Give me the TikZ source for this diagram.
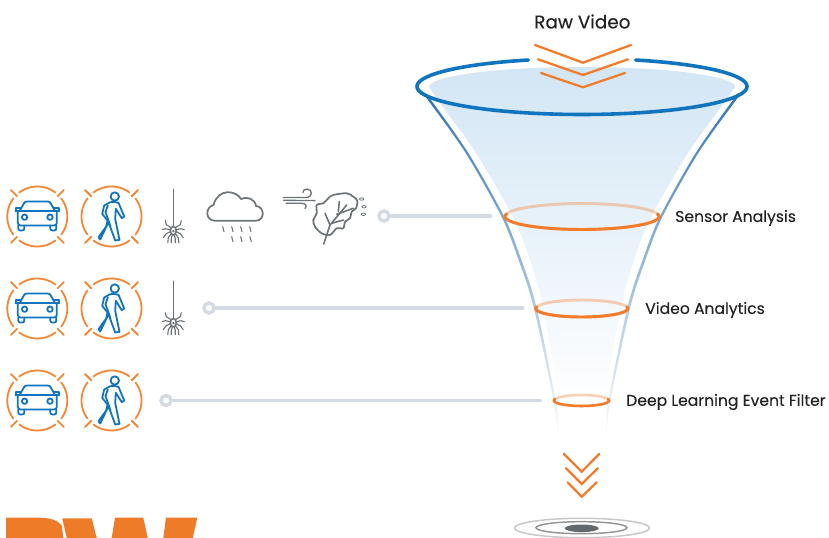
\documentclass[tikz,border=0pt]{standalone}
\usepackage{fontspec}
\setmainfont[FakeBold=0.25]{Poppins}
\definecolor{orA}{HTML}{F47B2A}
\definecolor{orL}{HTML}{F58634}
\definecolor{blA}{HTML}{1174BE}
\definecolor{blS}{HTML}{2E75BA}
\definecolor{blM}{HTML}{5F8DCB}
\definecolor{fillT}{HTML}{D3E6F5}
\definecolor{fillM}{HTML}{E3EFF9}
\definecolor{gyA}{HTML}{6D7478}
\definecolor{lineG}{HTML}{D3DAE2}
\definecolor{txt}{HTML}{222222}
\definecolor{lett}{HTML}{EE7B28}
\tikzset{
  chev/.style={draw=orA,line width=1.7pt,line cap=round,line join=miter},
  ico/.style={draw=blA,line width=1.35pt,line join=round,line cap=round},
  gico/.style={draw=gyA,line width=1.2pt,line join=round,line cap=round},
  rng/.style={draw=orL,line width=1.35pt,line cap=round},
  lab/.style={anchor=west,inner sep=0pt,text=txt,font=\fontsize{11.7pt}{14pt}\selectfont},
  dotend/.style={circle,draw=lineG,line width=2.6pt,fill=white,minimum size=7.5pt,inner sep=0pt},
  leader/.style={draw=lineG,line width=2.6pt,line cap=round},
  ringsign/.pic={
    \foreach \a in {0,90,180,270}{
      \draw[rng] plot[domain=\a-37:\a+37,samples=20] ({30*cos(\x)},{30*sin(\x)});
      \draw[rng] ({28.6*cos(\a+45)},{28.6*sin(\a+45)}) -- ({37.3*cos(\a+45)},{37.3*sin(\a+45)});
    }
  },
  carsign/.pic={
    \draw[ico] (-17.7,-5.5) -- (-13.5,-13) .. controls (-12.7,-14.5) and (-12,-15) .. (-10,-15) -- (10,-15) .. controls (12,-15) and (12.7,-14.5) .. (13.5,-13) -- (17.7,-5.5);
    \draw[ico,line width=1.7pt] (-21.7,-5.5) -- (21.7,-5.5);
    \draw[ico] (-17.7,-5.5) -- (-21.7,-5.5) -- (-21.7,-8.3) -- (-17,-8.3);
    \draw[ico] (17.7,-5.5) -- (21.7,-5.5) -- (21.7,-8.3) -- (17,-8.3);
    \draw[ico,rounded corners=2pt] (-19.5,-5) -- (-19.5,9) -- (19.5,9) -- (19.5,-5);
    \draw[ico,rounded corners=1.5pt] (-19,9) -- (-19,14) -- (-13,14) -- (-13,9);
    \draw[ico,rounded corners=1.5pt] (13,9) -- (13,14) -- (19,14) -- (19,9);
    \draw[ico] (-12.7,0.7) circle[radius=2.7];
    \draw[ico] (12.7,0.7) circle[radius=2.7];
  },
  walksign/.pic={
    \draw[ico] (3.3,-20) circle[radius=4.2];
    \draw[ico] (-1.3,-14.3) -- (3,-14.5) -- (7,-13.7) -- (12.7,0) -- (10.3,1.7) -- (4.3,-7.7) -- (3.7,2.3) -- (8,23.3) -- (3.7,24) -- (-3,5.7) -- (-11.3,23) -- (-13,20.7) -- (-5.3,10) -- (-4,4) -- (-9.3,-2.7) -- (-7.3,-11) -- cycle;
    \draw[ico] (-3.7,-11) -- (-6,-4.3) -- (-3,4) -- (-1,10);
  },
  spidersign/.pic={
    \draw[gico] (0,-41.5) -- (0,-5);
    \foreach \s in {-1,1}{
      \begin{scope}[xscale=\s]
      \draw[gico,line width=.85pt] (2,-3) -- (7,-6) -- (8,-10);
      \draw[gico,line width=.85pt] (3,-1) -- (8,-2) -- (11,-1);
      \draw[gico,line width=.85pt] (3,1) -- (7,3) -- (10,7);
      \draw[gico,line width=.85pt] (2,3) -- (5,7) -- (5.5,12);
      \draw[gico,line width=.85pt] (1,4) -- (2,8) -- (2,12);
      \end{scope}
    }
    \draw[gico,fill=white] (0,0) ellipse[x radius=3,y radius=4.2];
    \fill[gyA] (0,0.5) circle[radius=1.3];
  }
}
\begin{document}
\begin{tikzpicture}[x=0.75pt,y=-0.75pt]
\useasboundingbox (0,0) rectangle (829,538);

% funnel body
\shade[top color=fillT,middle color=fillM,bottom color=white]
  plot[domain=180:0,samples=60] ({582+153*cos(\x)},{87-20*sin(\x)})
  -- plot[smooth] coordinates {(735,87)(724,103)(688,153)(651,217)(634,260)(621,307)(606,393)(604,405)}
  -- plot[smooth] coordinates {(560,405)(558,393)(543,307)(530,260)(513,217)(476,153)(440,103)(429,87)}
  -- cycle;
% funnel walls
\shade[top color=blS,middle color=blM,bottom color=white]
  plot[smooth] coordinates {(425.5,94)(429.5,98)(468.3,153)(504.3,217)(521.4,260)(536.4,307)(556,403)(558.4,440)}
  -- plot[smooth] coordinates {(557.6,440)(554,403)(533.6,307)(518.6,260)(501.7,217)(465.7,153)(426.5,98)(423.5,94)}
  -- cycle;
\shade[top color=blS,middle color=blM,bottom color=white]
  plot[smooth] coordinates {(738.5,94)(734.5,98)(695.7,153)(659.7,217)(642.6,260)(627.6,307)(608,403)(605.6,440)}
  -- plot[smooth] coordinates {(606.4,440)(610,403)(630.4,307)(645.4,260)(662.3,217)(698.3,153)(737.5,98)(740.5,94)}
  -- cycle;
% rim
\draw[draw=blA,line width=2.7pt,line cap=round] plot[domain=-251:71,samples=120] ({582+165*cos(\x)},{86.5-28*sin(\x)});

% top chevrons
\draw[chev] (535,45) -- (583,62.7) -- (631,45);
\draw[chev] (538,59.3) -- (583,75) -- (628,59.3);
\draw[chev] (541,73) -- (583,87.3) -- (625,73);

% rings
\draw[draw=orA,opacity=.35,line width=2.2pt] (582,216.5) ellipse[x radius=77,y radius=13];
\draw[draw=orA,line width=2.2pt,line cap=round] plot[domain=-12:192,samples=60] ({582+77*cos(\x)},{216.5+13*sin(\x)});
\draw[draw=orA,opacity=.35,line width=2.2pt] (581.7,308.5) ellipse[x radius=46,y radius=8.5];
\draw[draw=orA,line width=2.2pt,line cap=round] plot[domain=-12:192,samples=60] ({581.7+46*cos(\x)},{308.5+8.5*sin(\x)});
\draw[draw=orA,opacity=.35,line width=1.9pt] (581.5,400.5) ellipse[x radius=27.5,y radius=5.5];
\draw[draw=orA,line width=1.9pt,line cap=round] plot[domain=-15:195,samples=60] ({581.5+27.5*cos(\x)},{400.5+5.5*sin(\x)});

% bottom chevrons
\draw[chev] (564,454) -- (581.7,471.7) -- (599.3,454);
\draw[chev] (566,468.3) -- (581.7,484) -- (597.7,468.3);
\draw[chev] (567.7,482.3) -- (581.7,496.7) -- (596.7,482.3);

% target
\draw[draw=black!22,line width=1.1pt] (582,528) ellipse[x radius=67.5,y radius=9.7];
\draw[draw=black!42,line width=1.1pt] (581.5,527.7) ellipse[x radius=45.5,y radius=6];
\fill[fill=gyA!90!black] (581.7,528.3) ellipse[x radius=17,y radius=3.8];

% labels
\node[lab,font=\fontsize{13.8pt}{16pt}\selectfont] (rawlab) at (534,21.5) {Raw Video};
\node[lab] (senlab) at (675,218) {Sensor Analysis};
\node[lab] (vidlab) at (645,310) {Video Analytics};
\node[lab] (deeplab) at (626,402) {Deep Learning Event Filter};

% leaders
\node[dotend] (d1) at (384,216) {};
\coordinate (e1) at (490.5,216);
\draw[leader] (d1) -- (e1);
\node[dotend] (d2) at (209,308) {};
\coordinate (e2) at (522.5,308);
\draw[leader] (d2) -- (e2);
\node[dotend] (d3) at (166,400.5) {};
\coordinate (e3) at (540.5,400.5);
\draw[leader] (d3) -- (e3);

% icons
\foreach \yy in {216.5,308.5,400.5}{
  \pic at (37.3,\yy) {ringsign};
  \pic at (37.3,\yy) {carsign};
  \pic at (111.5,\yy) {ringsign};
  \pic at (111.5,\yy) {walksign};
}
\pic at (173.3,230.7) {spidersign};
\pic at (173.3,322.7) {spidersign};

% cloud
\draw[gico,line width=1.3pt] (215,220.7) -- (256,220.7) .. controls (265,220.7) and (265,206.5) .. (256,206)
  .. controls (255,199) and (247,196) .. (241,199)
  .. controls (236,190) and (218,188) .. (213.5,205)
  .. controls (205,207) and (205,220.7) .. (215,220.7) -- cycle;
\foreach \xx in {222.7,231.7,240.7,249.7}{ \draw[gico,line width=.8pt] (\xx,226.7) -- (\xx+1.3,231.7); }
\foreach \xx in {231.7,240.7,250}{ \draw[gico,line width=.8pt] (\xx,236.7) -- (\xx+1.3,241.7); }

% wind
\draw[gico,line width=1pt] (283.5,197.5) -- (306,197.5) .. controls (313,197.5) and (313,189) .. (307,189) .. controls (304,189) and (303,191) .. (303,192.5);
\draw[gico,line width=1pt] (283.5,200.3) -- (315,200.6);
\draw[gico,line width=1pt] (286,203.3) -- (301,203.3) .. controls (306,203.3) and (307.5,206) .. (305,208.5);

% leaf
\draw[gico,line width=1.3pt] plot[smooth cycle,tension=.55] coordinates {(328.3,198.3)(333.3,195)(346.7,193.3)(353.3,196.7)(357.3,200.7)(356,208.3)(351.7,211.7)(350,218.3)(345,221.7)(343.3,228.3)(336.7,228.3)(330,235)(321.7,233.3)(315,226.7)(313.3,220)(316.7,213.3)(316.7,205)(323.3,203.3)};
\draw[gico] (323.7,244) -- (330,225) -- (346.7,205);
\draw[gico] (339.3,201.7) -- (338.3,211.7);
\draw[gico] (353.3,208.3) -- (336.7,214.3);
\draw[gico] (325,213.3) -- (330,225);
\draw[gico] (343.3,220) -- (331.7,223.3);
\draw[gico,line width=.6pt] (361.7,199) ellipse[x radius=2.2,y radius=1.2];
\draw[gico,line width=.6pt] (364,206.7) ellipse[x radius=2.2,y radius=1.2];
\draw[gico,line width=.6pt] (363.3,214.3) ellipse[x radius=2.2,y radius=1.2];

% cropped letter shapes
\fill[lett] (6,538) -- (6,517.7) -- (40,517.7) .. controls (50,518) and (58,520) .. (61.7,525.7) -- (63.3,538) -- cycle;
\fill[lett] (62.3,518.3) -- (91.7,518.3) -- (96.7,538) -- (66.7,538) -- cycle;
\fill[lett] (115,517.7) -- (143.3,517.7) -- (147.7,538) -- (111.7,538) -- cycle;
\fill[lett] (166,517.7) -- (197.3,517.7) -- (192.7,538) -- (163.3,538) -- cycle;
\end{tikzpicture}
\end{document}
